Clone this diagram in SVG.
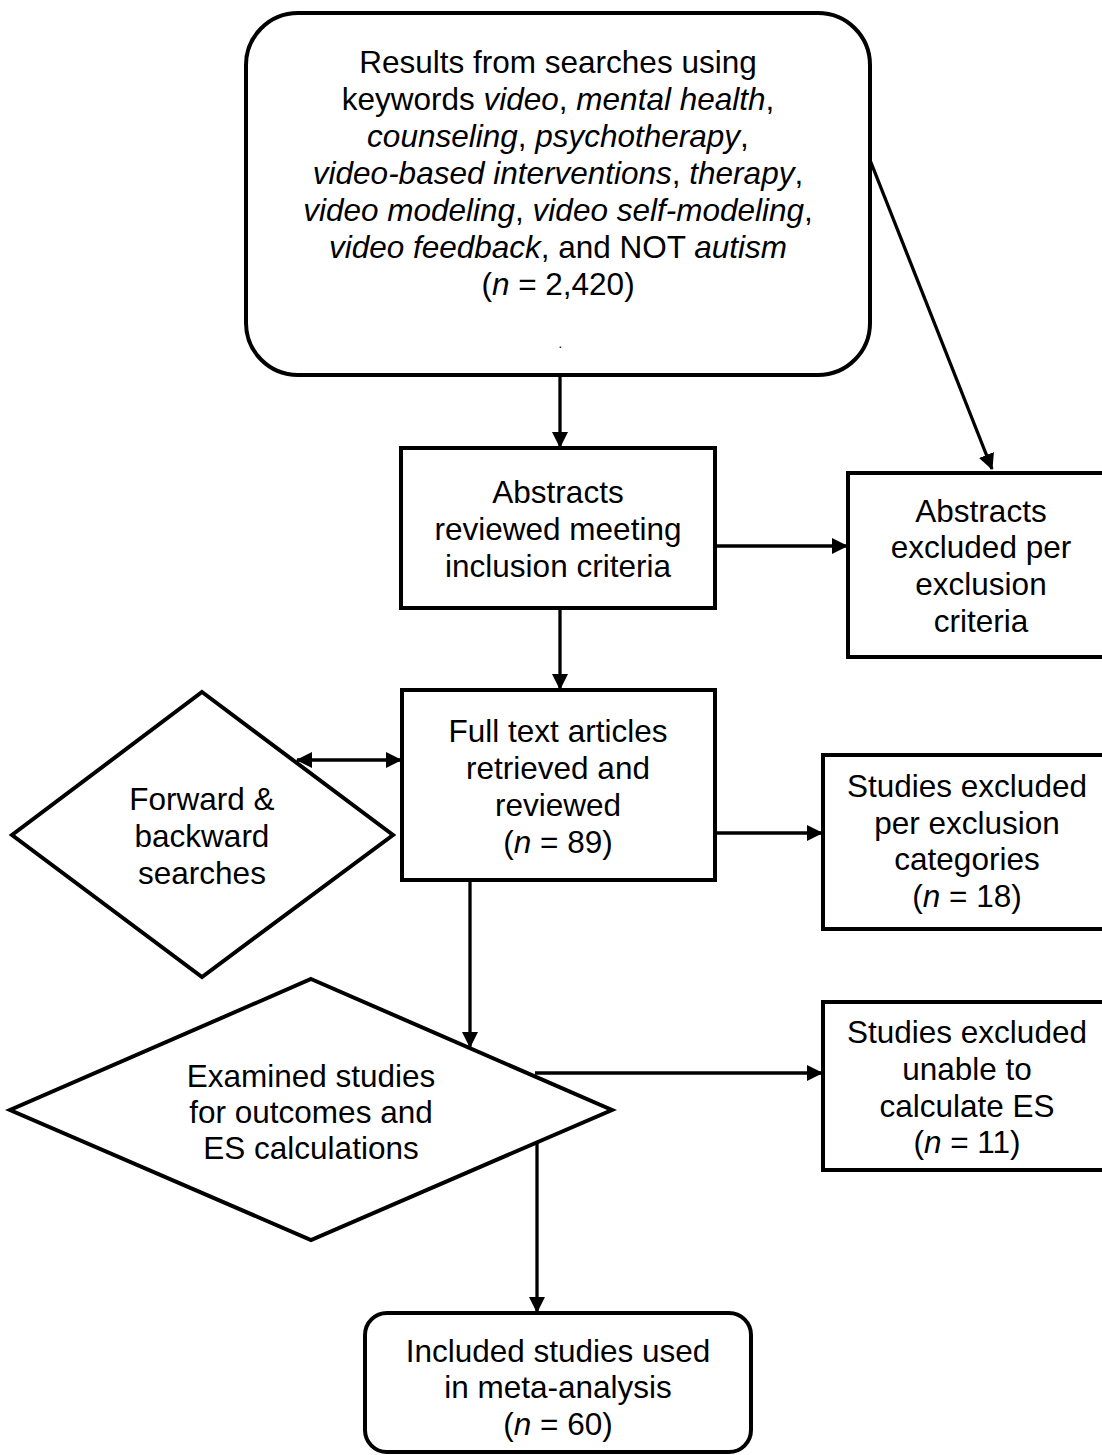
<svg xmlns="http://www.w3.org/2000/svg" width="1102" height="1455" viewBox="0 0 1102 1455">
<style>
  .shape { fill: #ffffff; stroke: #000000; stroke-width: 4; stroke-linejoin: miter; }
  .lbl { font-family: "Liberation Sans", Arial, sans-serif; font-size: 31.5px; fill: #000000; text-anchor: middle; }
  .it { font-style: italic; }
  .conn { fill: none; stroke: #000000; stroke-width: 3.3; }
</style>
<defs>
  <marker id="arrow" markerUnits="userSpaceOnUse" markerWidth="17" markerHeight="17" refX="15" refY="8" orient="auto-start-reverse" viewBox="0 0 17 17">
    <path d="M0,0 L16,8 L0,16 z" fill="#000000"/>
  </marker>
</defs>
<rect width="1102" height="1455" fill="#ffffff"/>

<g id="connectors">
  <line class="conn" x1="560" y1="375" x2="560" y2="447" marker-end="url(#arrow)"/>
  <line class="conn" x1="870" y1="160" x2="992" y2="469" marker-end="url(#arrow)"/>
  <line class="conn" x1="715" y1="546" x2="847" y2="546" marker-end="url(#arrow)"/>
  <line class="conn" x1="560" y1="608" x2="560" y2="689" marker-end="url(#arrow)"/>
  <line class="conn" x1="297" y1="760" x2="401" y2="760" marker-start="url(#arrow)" marker-end="url(#arrow)"/>
  <line class="conn" x1="715" y1="833" x2="822" y2="833" marker-end="url(#arrow)"/>
  <line class="conn" x1="470" y1="880" x2="470" y2="1047" marker-end="url(#arrow)"/>
  <line class="conn" x1="535" y1="1073" x2="822" y2="1073" marker-end="url(#arrow)"/>
  <line class="conn" x1="537" y1="1142" x2="537" y2="1312" marker-end="url(#arrow)"/>
</g>

<g id="node-search">
  <rect class="shape" x="246" y="13" width="624" height="362" rx="52" ry="52"/>
  <text class="lbl" x="558" y="73">Results from searches using</text>
  <text class="lbl" x="558" y="110">keywords <tspan class="it">video</tspan>, <tspan class="it">mental health</tspan>,</text>
  <text class="lbl" x="558" y="147"><tspan class="it">counseling</tspan>, <tspan class="it">psychotherapy</tspan>,</text>
  <text class="lbl" x="558" y="184"><tspan class="it">video-based interventions</tspan>, <tspan class="it">therapy</tspan>,</text>
  <text class="lbl" x="558" y="221"><tspan class="it">video modeling</tspan>, <tspan class="it">video self-modeling</tspan>,</text>
  <text class="lbl" x="558" y="258"><tspan class="it">video feedback</tspan>, and NOT <tspan class="it">autism</tspan></text>
  <text class="lbl" x="558" y="295">(<tspan class="it">n</tspan> = 2,420)</text>
  <text class="lbl it" x="561" y="348" style="font-size:14px">.</text>
</g>

<g id="node-abstracts-reviewed">
  <rect class="shape" x="401" y="448" width="314" height="160"/>
  <text class="lbl" x="558" y="503">Abstracts</text>
  <text class="lbl" x="558" y="540">reviewed meeting</text>
  <text class="lbl" x="558" y="577">inclusion criteria</text>
</g>

<g id="node-abstracts-excluded">
  <rect class="shape" x="848" y="473" width="262" height="184"/>
  <text class="lbl" x="981" y="522">Abstracts</text>
  <text class="lbl" x="981" y="558">excluded per</text>
  <text class="lbl" x="981" y="595">exclusion</text>
  <text class="lbl" x="981" y="632">criteria</text>
</g>

<g id="node-fulltext">
  <rect class="shape" x="402" y="690" width="313" height="190"/>
  <text class="lbl" x="558" y="742">Full text articles</text>
  <text class="lbl" x="558" y="779">retrieved and</text>
  <text class="lbl" x="558" y="816">reviewed</text>
  <text class="lbl" x="558" y="853">(<tspan class="it">n</tspan> = 89)</text>
</g>

<g id="node-forward-backward">
  <polygon class="shape" points="202,692 393,835 202,977 12,835"/>
  <text class="lbl" x="202" y="810">Forward &amp;</text>
  <text class="lbl" x="202" y="847">backward</text>
  <text class="lbl" x="202" y="884">searches</text>
</g>

<g id="node-studies-excluded-categories">
  <rect class="shape" x="823" y="755" width="287" height="174"/>
  <text class="lbl" x="967" y="797">Studies excluded</text>
  <text class="lbl" x="967" y="834">per exclusion</text>
  <text class="lbl" x="967" y="870">categories</text>
  <text class="lbl" x="967" y="907">(<tspan class="it">n</tspan> = 18)</text>
</g>

<g id="node-examined">
  <polygon class="shape" points="311,979 612,1110 311,1240 10,1110"/>
  <text class="lbl" x="311" y="1087">Examined studies</text>
  <text class="lbl" x="311" y="1123">for outcomes and</text>
  <text class="lbl" x="311" y="1159">ES calculations</text>
</g>

<g id="node-studies-excluded-es">
  <rect class="shape" x="823" y="1002" width="287" height="168"/>
  <text class="lbl" x="967" y="1043">Studies excluded</text>
  <text class="lbl" x="967" y="1080">unable to</text>
  <text class="lbl" x="967" y="1117">calculate ES</text>
  <text class="lbl" x="967" y="1153">(<tspan class="it">n</tspan> = 11)</text>
</g>

<g id="node-included">
  <rect class="shape" x="365" y="1313" width="386" height="139" rx="22" ry="22"/>
  <text class="lbl" x="558" y="1362">Included studies used</text>
  <text class="lbl" x="558" y="1398">in meta-analysis</text>
  <text class="lbl" x="558" y="1435">(<tspan class="it">n</tspan> = 60)</text>
</g>
</svg>
